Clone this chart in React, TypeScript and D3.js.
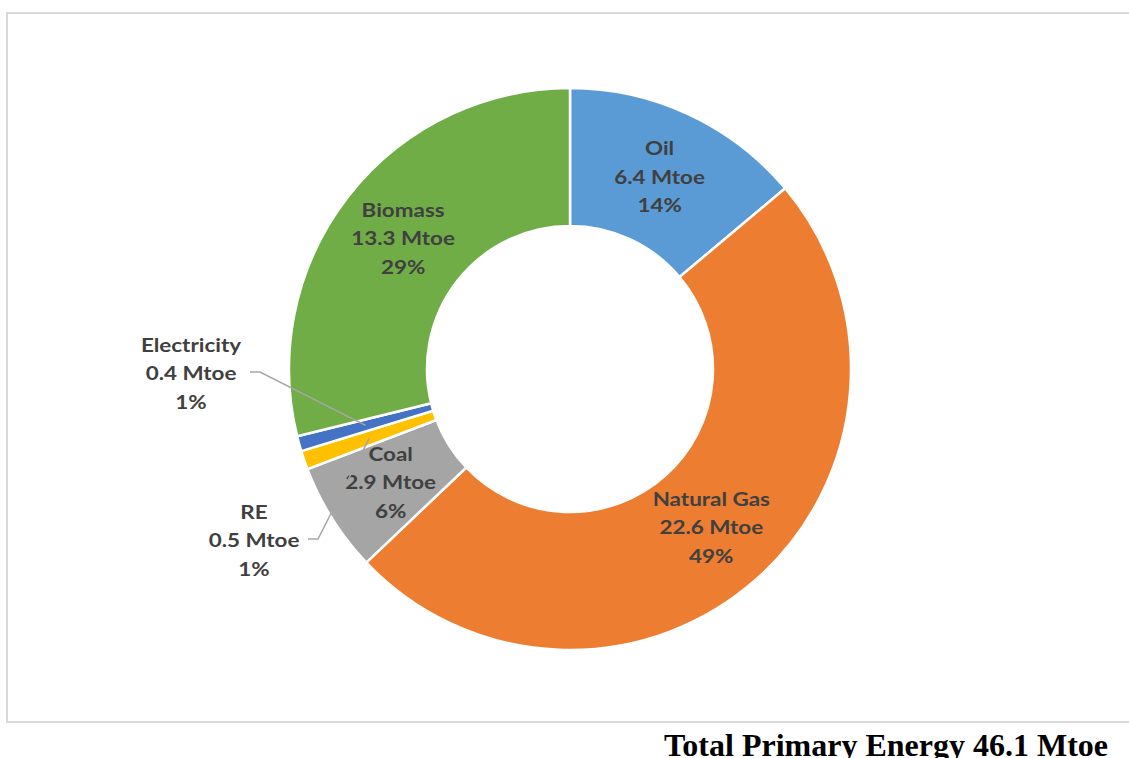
import React from "react";
import * as d3 from "d3";

const categories = ["Oil", "Natural Gas", "Coal", "RE", "Electricity", "Biomass"];
const valuesMtoe = [6.4, 22.6, 2.9, 0.5, 0.4, 13.3];
const percentLabels = ["14%", "49%", "6%", "1%", "1%", "29%"];
const colors = ["#5B9BD5", "#ED7D31", "#A5A5A5", "#FFC000", "#4472C4", "#70AD47"];
const totalLabel = "Total Primary Energy 46.1 Mtoe";

const W = 1129;
const H = 758;
const cx = 570;
const cy = 369;
const outerR = 281;
const innerR = 143;

// external label placement (for the thin slices)
const outside: Record<string, { x: number; y: number; anchorX: number }> = {
  Electricity: { x: 191, y: 373, anchorX: 250 },
  RE: { x: 254, y: 540, anchorX: 308 },
};

export default function App() {
  const pie = d3
    .pie<number>()
    .sort(null)
    .value((d) => d)
    .startAngle(0)
    .endAngle(2 * Math.PI);
  const arcs = pie(valuesMtoe);
  const arc = d3.arc<d3.PieArcDatum<number>>().innerRadius(innerR).outerRadius(outerR);
  const fontFamily = "Lato, 'Open Sans', sans-serif";
  const lh = 28.5;
  const fs = 19.5;
  const capHalf = fs * 0.36;

  return (
    <svg width={W} height={H} style={{ position: "absolute", left: 0, top: 0, background: "#fff" }}>
      <rect x={7} y={13} width={1140} height={709} fill="#fff" stroke="#D9D9D9" strokeWidth={2} />
      <g transform={`translate(${cx},${cy})`}>
        {arcs.map((a, i) => (
          <path key={categories[i]} d={arc(a) || ""} fill={colors[i]} stroke="#fff" strokeWidth={2.5} />
        ))}
      </g>
      {arcs.map((a, i) => {
        const name = categories[i];
        const lines = [name, `${valuesMtoe[i]} Mtoe`, percentLabels[i]];
        const c = arc.centroid(a);
        const o = outside[name];
        let lx = cx + c[0];
        let ly = cy + c[1];
        let leader: string | null = null;
        if (o) {
          lx = o.x;
          ly = o.y;
          const ex = cx + c[0];
          const ey = cy + c[1];
          leader = `M${o.anchorX},${o.y - 1}L${o.anchorX + 10},${o.y - 1}L${ex},${ey}`;
        }
        return (
          <g key={"l" + name}>
            {leader && <path d={leader} fill="none" stroke="#A6A6A6" strokeWidth={1.5} />}
            <g transform={`translate(${lx},${ly}) scale(1.15,1)`}>
              {lines.map((t, j) => (
                <text
                  key={j}
                  x={0}
                  y={(j - 1) * lh + capHalf}
                  textAnchor="middle"
                  fontFamily={fontFamily}
                  fontWeight="bold"
                  fontSize={fs}
                  fill="#404040"
                >
                  {t}
                </text>
              ))}
            </g>
          </g>
        );
      })}
      <text
        x={1108}
        y={756}
        textAnchor="end"
        fontFamily="'Liberation Serif', 'Times New Roman', serif"
        fontWeight="bold"
        fontSize={32}
        fill="#000"
      >
        {totalLabel}
      </text>
    </svg>
  );
}
